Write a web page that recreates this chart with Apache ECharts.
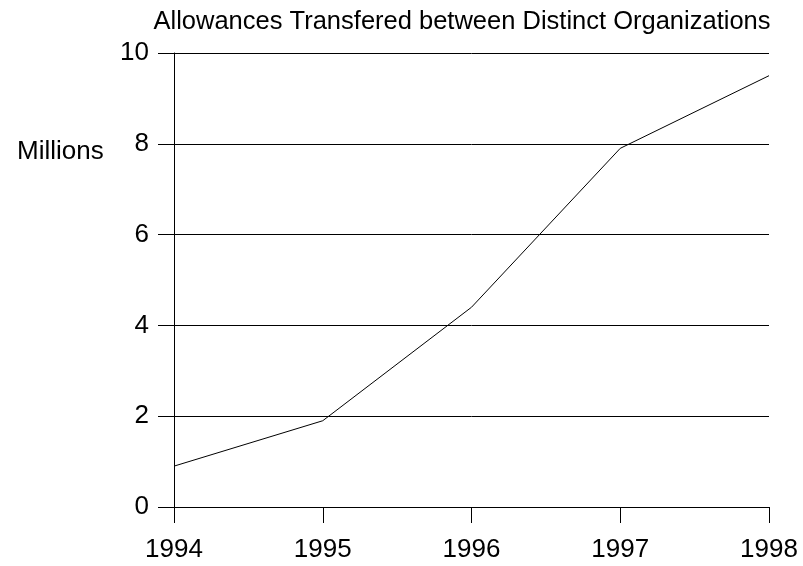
<!DOCTYPE html>
<html>
<head>
<meta charset="utf-8">
<script src="https://cdn.jsdelivr.net/npm/echarts@6/dist/echarts.min.js"></script>
<style>
  html, body { margin: 0; padding: 0; background: #fff; }
  #chart { width: 803px; height: 566px; }
</style>
</head>
<body>
<div id="chart"></div>
<script>
const years = ['1994', '1995', '1996', '1997', '1998']
const transfers = [0.9, 1.9, 4.4, 7.9, 9.5]
const yTicks = { min: 0, max: 10, interval: 2 }

const myChart = echarts.init(document.getElementById('chart'))
const font = 'Liberation Sans, Arial, sans-serif'

const option = {
  animation: false,
  title: [
    {
      text: 'Allowances Transfered between Distinct Organizations',
      left: 457,
      top: 4,
      textAlign: 'center',
      textStyle: { fontFamily: font, fontSize: 25.5, fontWeight: 'normal', color: '#000' }
    },
    {
      text: 'Millions',
      left: 12,
      top: 134,
      textStyle: { fontFamily: font, fontSize: 26, fontWeight: 'normal', color: '#000' }
    }
  ],
  grid: { left: 174, right: 34, top: 53, bottom: 59 },
  xAxis: {
    type: 'category',
    boundaryGap: false,
    data: years,
    axisLine: { show: false },
    axisTick: { show: true, length: 16, lineStyle: { color: '#000' } },
    axisLabel: { color: '#000', fontFamily: font, fontSize: 26, margin: 30 }
  },
  yAxis: {
    type: 'value',
    min: yTicks.min,
    max: yTicks.max,
    interval: yTicks.interval,
    axisLine: { show: true, lineStyle: { color: '#000' } },
    axisTick: { show: true, length: 16, lineStyle: { color: '#000' } },
    axisLabel: { color: '#000', fontFamily: font, fontSize: 26, margin: 25 },
    splitLine: { show: true, lineStyle: { color: '#000', width: 1 } }
  },
  series: [
    {
      type: 'line',
      data: transfers,
      showSymbol: false,
      lineStyle: { color: '#000', width: 1 }
    }
  ]
}

myChart.setOption(option)
</script>
</body>
</html>
